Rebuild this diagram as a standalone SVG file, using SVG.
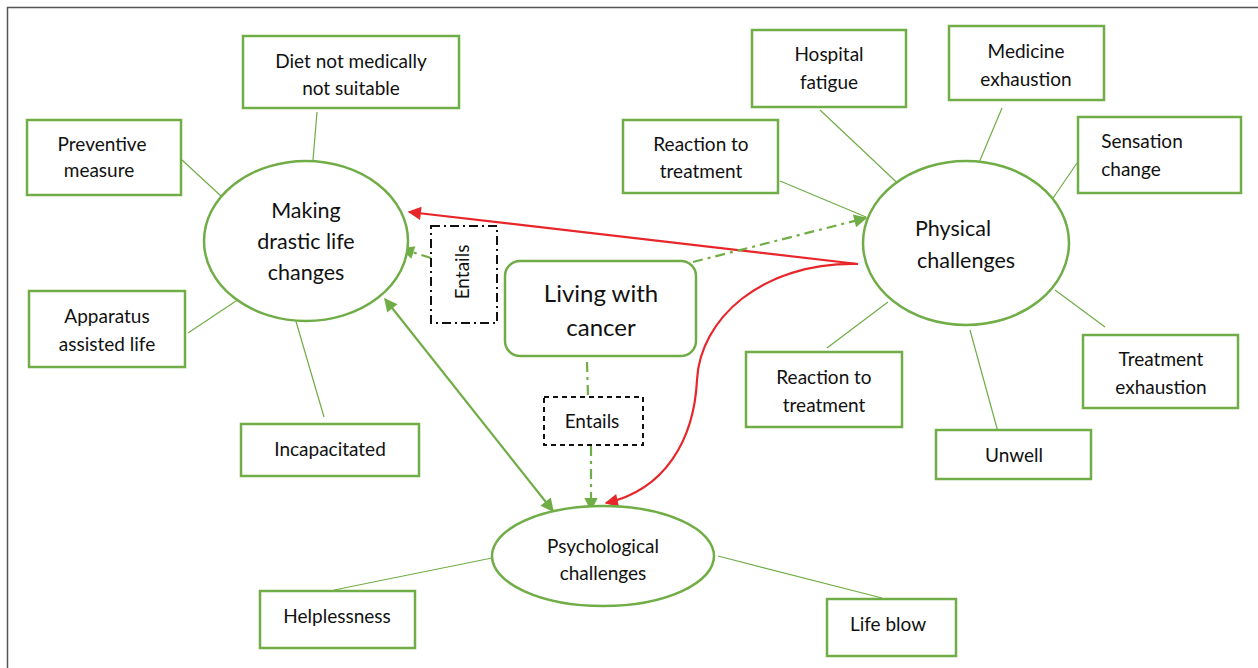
<svg xmlns="http://www.w3.org/2000/svg" width="1258" height="668" viewBox="0 0 1258 668">
<defs>
<style>
.box{fill:#fff;stroke:#70AD47;stroke-width:2.5}
.ell{fill:#fff;stroke:#70AD47;stroke-width:2.5}
.t{font-family:Lato,"Liberation Sans",sans-serif;font-size:19px;fill:#111;text-anchor:middle}
.tl{font-size:21.5px}
.tx{font-size:24px}
.ln{stroke:#70AD47;stroke-width:1.2;fill:none}
.gr{stroke:#70AD47;stroke-width:2.2;fill:none}
.dd{stroke:#70AD47;stroke-width:2.2;fill:none;stroke-dasharray:10 5 3 5}
.red{stroke:#E8262A;stroke-width:2.2;fill:none}
</style>
<marker id="ag" viewBox="0 0 10 10" refX="9" refY="5" markerWidth="7.5" markerHeight="6" markerUnits="strokeWidth" orient="auto-start-reverse"><path d="M0,0 L10,5 L0,10 z" fill="#70AD47"/></marker>
<marker id="ar" viewBox="0 0 10 10" refX="9" refY="5" markerWidth="7.5" markerHeight="6" markerUnits="strokeWidth" orient="auto"><path d="M0,0 L10,5 L0,10 z" fill="#E8262A"/></marker>
</defs>
<rect x="0" y="0" width="1258" height="668" fill="#fff"/>
<rect x="7.5" y="7.5" width="1260" height="680" fill="none" stroke="#555" stroke-width="1.5"/>

<g id="connectors">
<line class="ln" x1="317" y1="112" x2="313" y2="160"/>
<line class="ln" x1="182" y1="160" x2="221" y2="196"/>
<line class="ln" x1="188" y1="333" x2="245" y2="295"/>
<line class="ln" x1="295" y1="318" x2="324" y2="417"/>
<line class="ln" x1="780" y1="181" x2="866" y2="217"/>
<line class="ln" x1="820" y1="110" x2="907" y2="192"/>
<line class="ln" x1="1002" y1="108" x2="973" y2="177"/>
<line class="ln" x1="1077" y1="163" x2="1047" y2="207"/>
<line class="ln" x1="827" y1="348" x2="888" y2="302"/>
<line class="ln" x1="970" y1="330" x2="998" y2="432"/>
<line class="ln" x1="1055" y1="290" x2="1105" y2="327"/>
<line class="ln" x1="334" y1="590" x2="492" y2="558"/>
<line class="ln" x1="718" y1="556" x2="882" y2="598"/>
<line class="red" x1="858" y1="264" x2="409" y2="212" marker-end="url(#ar)"/>
<path class="red" d="M858,264 C760,262 700,320 697,380 C694,440 665,490 606,503" marker-end="url(#ar)"/>
<line class="gr" x1="385" y1="299" x2="553" y2="511" marker-start="url(#ag)" marker-end="url(#ag)"/>
<line class="dd" x1="431" y1="258" x2="402" y2="249" marker-end="url(#ag)"/>
<line class="dd" x1="693" y1="262" x2="866" y2="218" marker-end="url(#ag)"/>
<line class="dd" x1="587" y1="362" x2="588" y2="396"/>
<line class="dd" x1="591" y1="446" x2="591" y2="510" marker-end="url(#ag)"/>
</g>

<g id="diet"><rect class="box" x="243" y="36" width="216" height="72"/><text class="t" x="351" y="68">Diet not medically</text><text class="t" x="351" y="95">not suitable</text></g>
<g id="preventive"><rect class="box" x="27" y="120" width="154" height="75"/><text class="t" x="102" y="151">Preventive</text><text class="t" x="99" y="177">measure</text></g>
<g id="making"><ellipse class="ell" cx="306" cy="241" rx="102" ry="80"/><text class="t tl" x="306" y="218">Making</text><text class="t tl" x="306" y="249">drastic life</text><text class="t tl" x="306" y="280">changes</text></g>
<g id="apparatus"><rect class="box" x="29" y="291" width="156" height="76"/><text class="t" x="107" y="323">Apparatus</text><text class="t" x="107" y="351">assisted life</text></g>
<g id="incapacitated"><rect class="box" x="241" y="424" width="178" height="52"/><text class="t" x="330" y="456">Incapacitated</text></g>
<g id="entails1"><rect x="431" y="226" width="66" height="97" fill="#fff" stroke="#111" stroke-width="2" stroke-dasharray="9 4 2 4"/><text class="t" transform="translate(469,272) rotate(-90)">Entails</text></g>
<g id="living"><rect class="box" x="505" y="261" width="191" height="95" rx="15"/><text class="t tx" x="601" y="302">Living with</text><text class="t tx" x="601" y="336">cancer</text></g>
<g id="entails2"><rect x="544" y="397" width="99" height="48" fill="#fff" stroke="#111" stroke-width="2" stroke-dasharray="5 4"/><text class="t" x="592" y="428">Entails</text></g>
<g id="psych"><ellipse class="ell" cx="603" cy="556" rx="111" ry="50"/><text class="t" x="603" y="553">Psychological</text><text class="t" x="603" y="580">challenges</text></g>
<g id="helpless"><rect class="box" x="260" y="591" width="155" height="57"/><text class="t" x="337" y="623">Helplessness</text></g>
<g id="lifeblow"><rect class="box" x="827" y="599" width="129" height="57"/><text class="t" x="888" y="631">Life blow</text></g>
<g id="reaction1"><rect class="box" x="623" y="120" width="155" height="73"/><text class="t" x="701" y="151">Reaction to</text><text class="t" x="701" y="178">treatment</text></g>
<g id="hospital"><rect class="box" x="752" y="30" width="154" height="77"/><text class="t" x="829" y="61">Hospital</text><text class="t" x="829" y="89">fatigue</text></g>
<g id="medicine"><rect class="box" x="949" y="26" width="155" height="74"/><text class="t" x="1026" y="58">Medicine</text><text class="t" x="1026" y="86">exhaustion</text></g>
<g id="sensation"><rect class="box" x="1078" y="117" width="163" height="76"/><text class="t" x="1142" y="148">Sensation</text><text class="t" x="1131" y="176">change</text></g>
<g id="physical"><ellipse class="ell" cx="966" cy="243" rx="103" ry="82"/><text class="t tl" x="953" y="236">Physical</text><text class="t tl" x="966" y="268">challenges</text></g>
<g id="reaction2"><rect class="box" x="746" y="352" width="156" height="75"/><text class="t" x="824" y="384">Reaction to</text><text class="t" x="824" y="412">treatment</text></g>
<g id="unwell"><rect class="box" x="936" y="430" width="155" height="49"/><text class="t" x="1014" y="462">Unwell</text></g>
<g id="treatex"><rect class="box" x="1083" y="335" width="155" height="73"/><text class="t" x="1161" y="366">Treatment</text><text class="t" x="1161" y="394">exhaustion</text></g>
</svg>
